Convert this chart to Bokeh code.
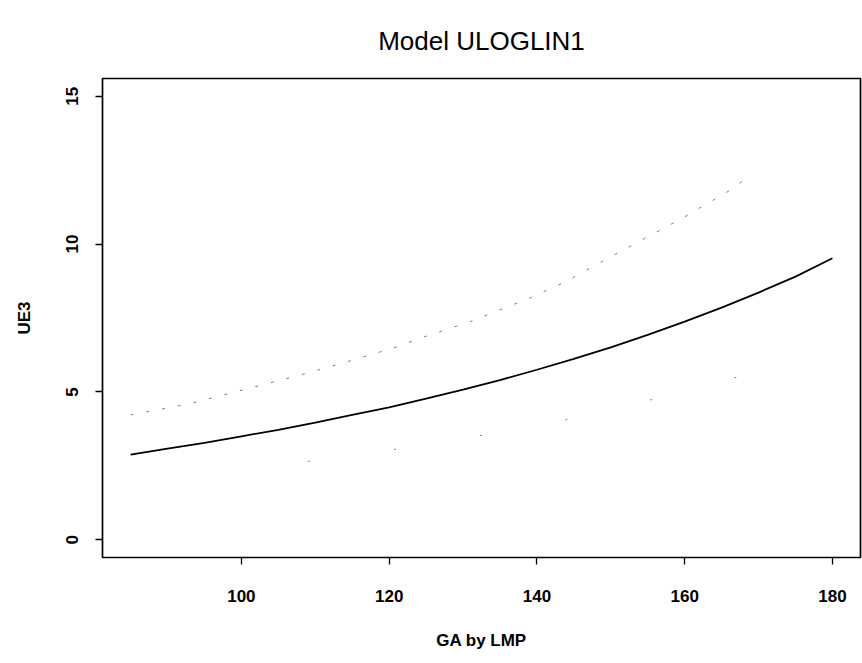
from bokeh.plotting import figure
from bokeh.models import Range1d, FixedTicker
from bokeh.embed import file_html
from bokeh.resources import INLINE

# Fitted curve of UE3 against gestational age (log-linear model)
ga_fit = [85, 90, 95, 100, 105, 110, 115, 120, 125, 130,
          135, 140, 145, 150, 155, 160, 165, 170, 175, 180]
ue3_fit = [2.88, 3.08, 3.28, 3.50, 3.72, 3.96, 4.22, 4.48, 4.77, 5.08,
           5.40, 5.75, 6.12, 6.51, 6.93, 7.38, 7.85, 8.36, 8.90, 9.52]

# Upper reference limit
ga_upper = [85, 93, 101, 109, 115, 121, 124, 131, 135, 139, 144, 148, 160, 166, 168]
ue3_upper = [4.22, 4.60, 5.12, 5.64, 6.07, 6.52, 6.80, 7.38, 7.78, 8.17,
             8.74, 9.30, 10.92, 11.80, 12.16]

# Lower reference limit
ga_lower = [109, 122, 140, 151, 162, 173]
ue3_lower = [2.65, 3.10, 3.84, 4.46, 5.14, 5.92]

x_ticks = [100, 120, 140, 160, 180]
y_ticks = [0, 5, 10, 15]

FONT = "Liberation Sans"

p = figure(width=862, height=663, output_backend="svg", toolbar_location=None,
           x_range=Range1d(81.2, 183.8), y_range=Range1d(-0.6, 15.6),
           title="Model ULOGLIN1",
           min_border_left=102, min_border_right=2,
           min_border_top=78, min_border_bottom=106)

p.background_fill_color = "white"
p.border_fill_color = "white"
p.outline_line_color = "black"
p.outline_line_width = 1.7
p.grid.visible = False

p.title.text_font = FONT
p.title.text_font_size = "26px"
p.title.text_font_style = "normal"
p.title.text_color = "black"
p.title.align = "center"
p.title.standoff = 46

for ax in (p.xaxis[0], p.yaxis[0]):
    ax.axis_line_color = None
    ax.major_tick_line_color = "black"
    ax.major_tick_line_width = 1.3
    ax.major_tick_out = 7
    ax.major_tick_in = 0
    ax.minor_tick_line_color = None
    ax.major_label_text_font = FONT
    ax.major_label_text_font_size = "17px"
    ax.major_label_text_font_style = "bold"
    ax.major_label_text_color = "black"
    ax.axis_label_text_font = FONT
    ax.axis_label_text_font_size = "17px"
    ax.axis_label_text_font_style = "bold"
    ax.axis_label_text_color = "black"

p.xaxis[0].ticker = FixedTicker(ticks=x_ticks)
p.xaxis[0].axis_label = "GA by LMP"
p.xaxis[0].major_label_standoff = 25
p.xaxis[0].axis_label_standoff = 26

p.yaxis[0].ticker = FixedTicker(ticks=y_ticks)
p.yaxis[0].axis_label = "UE3"
p.yaxis[0].major_label_orientation = "vertical"
p.yaxis[0].major_label_standoff = 17
p.yaxis[0].axis_label_standoff = 30

# Reference limits are drawn as sparse, light dashes
p.line(ga_upper, ue3_upper, line_color="#333333", line_width=0.9,
       line_dash="3 13", line_alpha=0.7)
p.line(ga_lower, ue3_lower, line_color="#333333", line_width=0.9,
       line_dash="2 85", line_alpha=0.7)
p.line(ga_fit, ue3_fit, line_color="black", line_width=1.8)

open("out.html", "w").write(file_html(p, INLINE))
